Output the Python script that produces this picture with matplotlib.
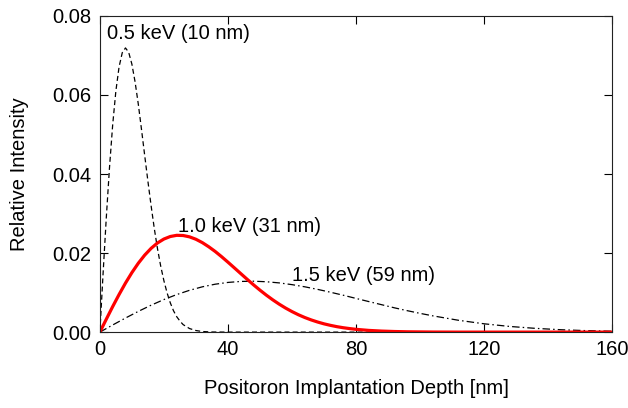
import matplotlib
matplotlib.use('Agg')
import matplotlib.pyplot as plt

plt.rcParams['font.family'] = ['Liberation Sans', 'DejaVu Sans']

# 0.5 keV profile (dashed)
depth_05 = [0, 1, 2, 3, 4, 5, 6, 7, 8, 9, 10, 11, 12, 13, 14, 15, 16, 17, 18, 19,
            20, 21, 22, 23, 24, 25, 26, 28, 30, 32, 35, 40, 160]
int_05 = [0, 0.0147, 0.0288, 0.0415, 0.0524, 0.0610, 0.0671, 0.0707, 0.0719, 0.0708,
          0.0678, 0.0633, 0.0577, 0.0513, 0.0447, 0.0382, 0.0320, 0.0262, 0.0211,
          0.0167, 0.0130, 0.0099, 0.0074, 0.0054, 0.0039, 0.0028, 0.0019, 0.0009,
          0.0004, 0.00015, 0.00003, 0, 0]

# 1.0 keV profile (red)
depth_10 = [0, 2, 4, 6, 8, 10, 12, 14, 16, 18, 20, 22, 24, 26, 28, 30, 32, 34, 36,
            38, 40, 42, 44, 46, 48, 50, 52, 54, 56, 58, 60, 62, 64, 66, 68, 70, 72,
            74, 76, 78, 80, 84, 88, 92, 96, 104, 112, 160]
int_10 = [0, 0.00325, 0.00645, 0.00951, 0.0124, 0.01505, 0.01742, 0.01948, 0.02119,
          0.02256, 0.02355, 0.02419, 0.02449, 0.02444, 0.0241, 0.02349, 0.02264,
          0.02159, 0.02041, 0.01909, 0.01769, 0.01625, 0.0148, 0.01336, 0.01195,
          0.01061, 0.00934, 0.00816, 0.00707, 0.00608, 0.00519, 0.00439, 0.00369,
          0.00308, 0.00255, 0.00209, 0.00171, 0.00138, 0.00111, 0.00089, 0.0007,
          0.00043, 0.00026, 0.00015, 0.00008, 0.00002, 0, 0]

# 1.5 keV profile (dash-dot)
depth_15 = [0, 4, 8, 12, 16, 20, 24, 28, 32, 36, 40, 44, 48, 52, 56, 60, 64, 68, 72,
            76, 80, 84, 88, 92, 96, 100, 104, 112, 120, 128, 136, 144, 152, 160]
int_15 = [0, 0.0018, 0.00356, 0.00524, 0.00681, 0.00824, 0.0095, 0.01058, 0.01146,
          0.01212, 0.01257, 0.01282, 0.01288, 0.01274, 0.01245, 0.01201, 0.01146,
          0.01081, 0.01009, 0.00933, 0.00852, 0.00772, 0.00693, 0.00614, 0.00542,
          0.00474, 0.00411, 0.00299, 0.0021, 0.00143, 0.00095, 0.0006, 0.00037,
          0.00022]

fig = plt.figure(figsize=(6.28, 4.08), dpi=100)
ax = fig.add_axes([0.159, 0.186, 0.816, 0.775])

ax.plot(depth_05, int_05, color='black', lw=0.9, linestyle=(0, (4, 2.5)))
ax.plot(depth_15, int_15, color='black', lw=0.9, linestyle=(0, (6, 2.5, 1.2, 2.5)))
ax.plot(depth_10, int_10, color='#ff0000', lw=2.3, solid_joinstyle='round')

fs = 14.5
ax.text(2.2, 0.0755, '0.5 keV (10 nm)', fontsize=fs, va='center', ha='left')
ax.text(24.4, 0.0266, '1.0 keV (31 nm)', fontsize=fs, va='center', ha='left')
ax.text(60, 0.0144, '1.5 keV (59 nm)', fontsize=fs, va='center', ha='left')

ax.set_xlim(0, 160)
ax.set_ylim(0, 0.08)
ax.set_xticks([0, 40, 80, 120, 160])
ax.set_yticks([0, 0.02, 0.04, 0.06, 0.08])
ax.set_yticklabels(['0.00', '0.02', '0.04', '0.06', '0.08'])
ax.tick_params(direction='in', length=6, width=0.8, top=True, right=True,
               labelsize=fs, pad=6)
for s in ax.spines.values():
    s.set_linewidth(0.8)
    s.set_color('#222222')

ax.set_xlabel('Positoron Implantation Depth [nm]', fontsize=fs, labelpad=14)
ax.set_ylabel('Relative Intensity', fontsize=fs, labelpad=17)

fig.savefig('out.png', dpi=100)
